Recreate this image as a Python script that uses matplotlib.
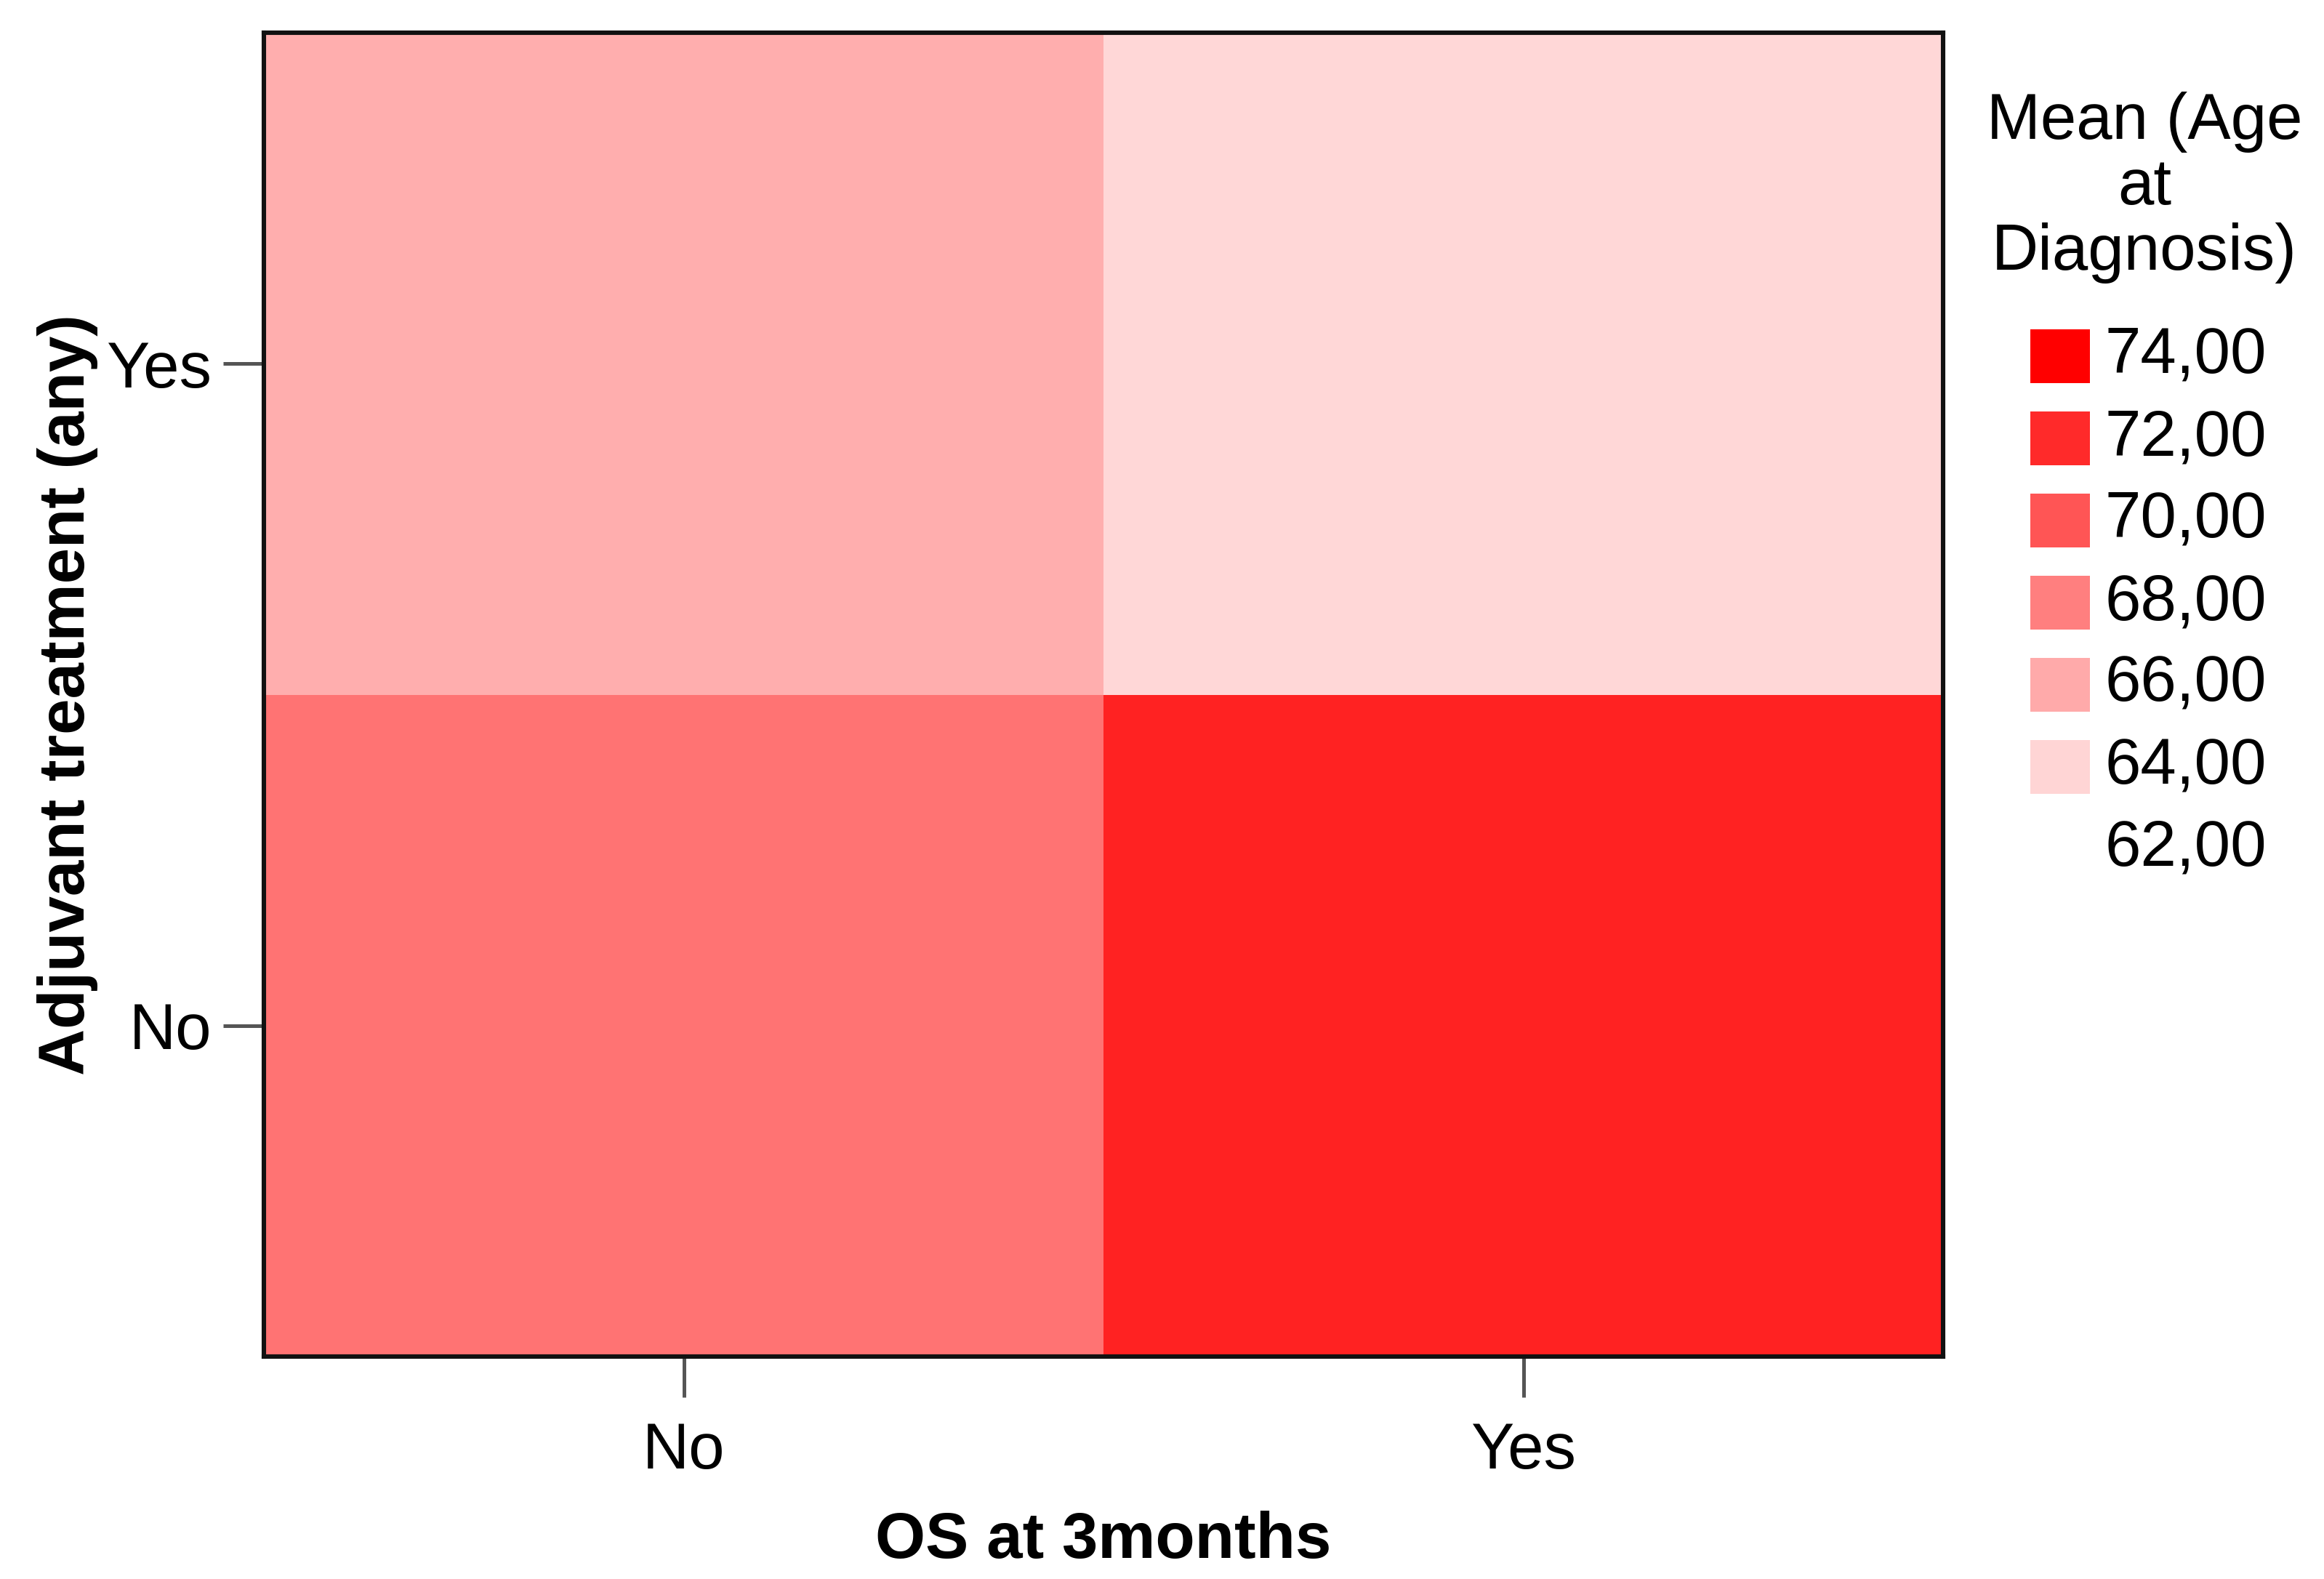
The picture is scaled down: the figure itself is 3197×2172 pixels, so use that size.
import matplotlib
matplotlib.use("Agg")
import matplotlib.pyplot as plt
import numpy as np
from matplotlib.colors import LinearSegmentedColormap, Normalize
from matplotlib.patches import Rectangle

# heatmap data: rows = Adjuvant treatment (any), cols = OS at 3months
os_labels = ["No", "Yes"]
adjuvant_labels = ["No", "Yes"]
mean_age = np.array([
    [68.6, 72.4],   # Adjuvant = No
    [65.8, 63.9],   # Adjuvant = Yes
])
legend_levels = [74, 72, 70, 68, 66, 64, 62]

W, H, DPI = 3197, 2172, 200
plt.rcParams["font.family"] = ["Liberation Sans", "DejaVu Sans"]
FS = 32

cmap = LinearSegmentedColormap.from_list("wr", ["#FFFFFF", "#FF0000"])
norm = Normalize(vmin=62, vmax=74)

fig = plt.figure(figsize=(W / DPI, H / DPI), dpi=DPI)
ax = fig.add_axes([363 / W, 1 - 1866 / H, (2673 - 363) / W, (1866 - 45) / H])

ax.pcolormesh(np.arange(3), np.arange(3), mean_age, cmap=cmap, norm=norm)
ax.set_xlim(0, 2)
ax.set_ylim(0, 2)
ax.set_xticks([0.5, 1.5])
ax.set_xticklabels(os_labels)
ax.set_yticks([0.5, 1.5])
ax.set_yticklabels(adjuvant_labels)
ax.tick_params(axis="both", length=20, width=1.8, color="#555555",
               labelsize=FS, pad=6)
ax.tick_params(axis="x", pad=12)
for s in ax.spines.values():
    s.set_linewidth(2.2)
    s.set_color("#111111")

ax.set_xlabel("OS at 3months", fontsize=FS, fontweight="bold", labelpad=14)
ax.set_ylabel("Adjuvant treatment (any)", fontsize=FS, fontweight="bold",
              labelpad=4)

# legend
fig.text(2950 / W, 1 - 258 / H, "Mean (Age\nat\nDiagnosis)", ha="center",
         va="center", fontsize=FS, linespacing=1.1)
y0, step = 490, 113
for i, lvl in enumerate(legend_levels):
    yc = y0 + i * step
    if lvl > 62:
        fig.patches.append(Rectangle((2793 / W, 1 - (yc + 37) / H), 82 / W,
                                     74 / H, transform=fig.transFigure,
                                     facecolor=cmap(norm(lvl)),
                                     edgecolor="none"))
    fig.text(2895 / W, 1 - yc / H, f"{lvl},00", ha="left", va="center",
             fontsize=FS)

fig.savefig("out.png", dpi=DPI)
